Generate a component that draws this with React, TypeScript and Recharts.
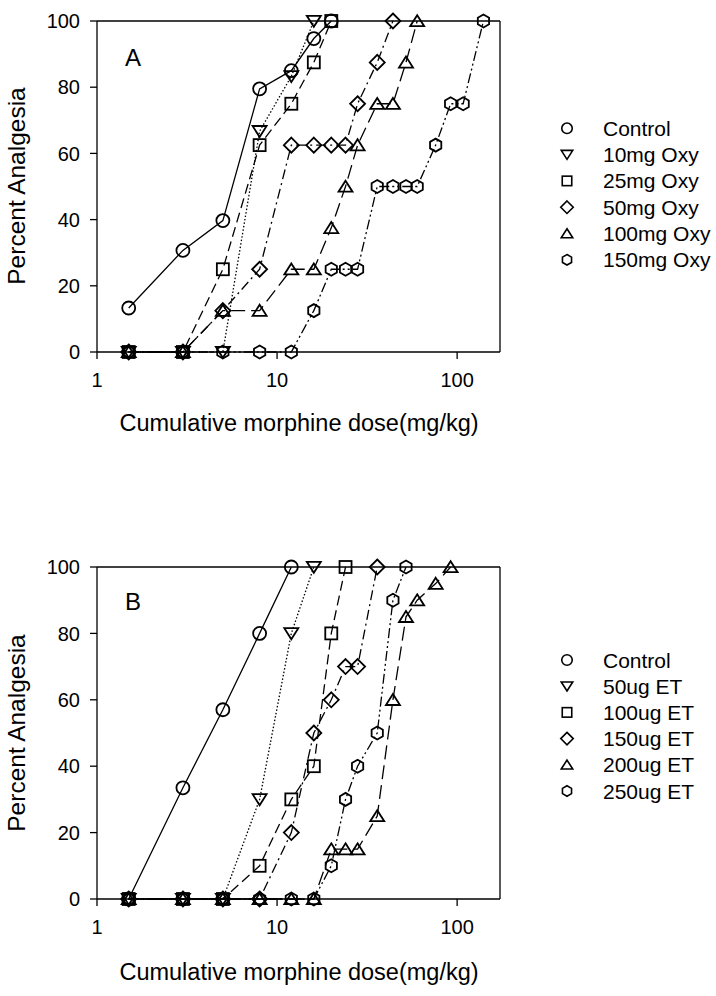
import React from "react";
import { LineChart, Line, XAxis, YAxis, ReferenceLine } from "recharts";

// cumulative morphine doses (mg/kg), shared by every series
const doses = [1.5, 3, 5, 8, 12, 16, 20, 24, 28, 36, 44, 52, 60, 76, 92, 108, 140];

// panel A: oxycodone pretreatment (percent analgesia, one value per dose step)
const controlA = [13.3, 30.7, 39.7, 79.5, 85, 94.7, 100];
const oxy10 = [0, 0, 0, 66.7, 83.3, 100];
const oxy25 = [0, 0, 25, 62.5, 75, 87.5, 100];
const oxy50 = [0, 0, 12.5, 25, 62.5, 62.5, 62.5, 62.5, 75, 87.5, 100];
const oxy100 = [0, 0, 12.5, 12.5, 25, 25, 37.5, 50, 62.5, 75, 75, 87.5, 100];
const oxy150 = [0, 0, 0, 0, 0, 12.5, 25, 25, 25, 50, 50, 50, 50, 62.5, 75, 75, 100];
const namesA = ["Control", "10mg Oxy", "25mg Oxy", "50mg Oxy", "100mg Oxy", "150mg Oxy"];

// panel B: ET pretreatment
const controlB = [0, 33.5, 57, 80, 100];
const et50 = [0, 0, 0, 30, 80, 100];
const et100 = [0, 0, 0, 10, 30, 40, 80, 100];
const et150 = [0, 0, 0, 0, 20, 50, 60, 70, 70, 100];
const et200 = [0, 0, 0, 0, 0, 0, 15, 15, 15, 25, 60, 85, 90, 95, 100];
const et250 = [0, 0, 0, 0, 0, 0, 10, 30, 40, 50, 90, 100];
const namesB = ["Control", "50ug ET", "100ug ET", "150ug ET", "200ug ET", "250ug ET"];

const xTicks = [1, 10, 100];
const yTicks = [0, 20, 40, 60, 80, 100];

const shapes = ["circle", "down", "square", "diamond", "up", "hexagon"];
const dashes = [undefined, "1.5 2", "10 5", "10 4 2 4", "14 6", "10 3 2 3 2 3"];

const FONT = "'Liberation Sans', Arial, sans-serif";

const toPoints = (values: number[]) => values.map((y, i) => ({ x: doses[i], y }));

const Marker = ({ shape, cx, cy, s = 13, sw = 1.8 }: any) => {
  const h = s / 2;
  const common = { fill: "none", stroke: "#000", strokeWidth: sw };
  switch (shape) {
    case "circle":
      return <circle cx={cx} cy={cy} r={h} {...common} />;
    case "down":
      return (
        <polygon
          points={`${cx - h - 0.5},${cy - h * 0.8} ${cx + h + 0.5},${cy - h * 0.8} ${cx},${cy + h * 0.9}`}
          {...common}
        />
      );
    case "square":
      return <rect x={cx - h + 0.5} y={cy - h + 0.5} width={s - 1} height={s - 1} {...common} />;
    case "diamond":
      return (
        <polygon
          points={`${cx},${cy - h - 1} ${cx + h + 1},${cy} ${cx},${cy + h + 1} ${cx - h - 1},${cy}`}
          {...common}
        />
      );
    case "up":
      return (
        <polygon
          points={`${cx},${cy - h * 0.9} ${cx + h + 0.5},${cy + h * 0.8} ${cx - h - 0.5},${cy + h * 0.8}`}
          {...common}
        />
      );
    default: {
      const w = h * 0.866;
      return (
        <polygon
          points={`${cx},${cy - h} ${cx + w},${cy - h / 2} ${cx + w},${cy + h / 2} ${cx},${cy + h} ${cx - w},${cy + h / 2} ${cx - w},${cy - h / 2}`}
          {...common}
        />
      );
    }
  }
};

const dotFor = (shape: string) => (props: any) =>
  <Marker key={`${shape}-${props.index}`} shape={shape} cx={props.cx} cy={props.cy} />;

const tickStyle = { fill: "#000", fontSize: 20, fontFamily: FONT };

interface PanelProps {
  series: number[][];
  height: number;
  top: number;
  xAxisHeight: number;
}

const Panel = ({ series, height, top, xAxisHeight }: PanelProps) => (
  <LineChart width={716} height={height} margin={{ top, right: 216, bottom: 0, left: 0 }}>
    <XAxis
      dataKey="x"
      type="number"
      scale="log"
      domain={[1, 173]}
      allowDataOverflow
      ticks={xTicks}
      height={xAxisHeight}
      tickSize={7}
      tickMargin={14}
      tick={tickStyle}
      axisLine={{ stroke: "#000", strokeWidth: 1.3 }}
      tickLine={{ stroke: "#000", strokeWidth: 1.3 }}
    />
    <YAxis
      type="number"
      domain={[0, 100]}
      ticks={yTicks}
      width={97}
      tickSize={7}
      tickMargin={10}
      tick={tickStyle}
      axisLine={{ stroke: "#000", strokeWidth: 1.3 }}
      tickLine={{ stroke: "#000", strokeWidth: 1.3 }}
    />
    <ReferenceLine y={100} stroke="#000" strokeWidth={1.3} />
    <ReferenceLine x={173} stroke="#000" strokeWidth={1.3} />
    {series.map((values, i) => (
      <Line
        key={i}
        data={toPoints(values)}
        dataKey="y"
        type="linear"
        stroke="#000"
        strokeWidth={1.3}
        strokeDasharray={dashes[i]}
        dot={dotFor(shapes[i])}
        activeDot={false}
        isAnimationActive={false}
      />
    ))}
  </LineChart>
);

const LegendBlock = ({ names, y0, step }: { names: string[]; y0: number; step: number }) => (
  <g>
    {names.map((name, i) => (
      <g key={name}>
        <Marker shape={shapes[i]} cx={567} cy={y0 + i * step} s={10.5} sw={1.6} />
        <text x={603} y={y0 + i * step + 7.5} fontSize={21} fontFamily={FONT} fill="#000">
          {name}
        </text>
      </g>
    ))}
  </g>
);

export default function App() {
  return (
    <div style={{ position: "absolute", left: 0, top: 0, width: 716, height: 996, background: "#fff" }}>
      <div style={{ position: "absolute", left: 0, top: 0 }}>
        <Panel series={[controlA, oxy10, oxy25, oxy50, oxy100, oxy150]} height={480} top={21} xAxisHeight={128} />
      </div>
      <div style={{ position: "absolute", left: 0, top: 500 }}>
        <Panel series={[controlB, et50, et100, et150, et200, et250]} height={496} top={67} xAxisHeight={97} />
      </div>
      <svg
        width={716}
        height={996}
        style={{ position: "absolute", left: 0, top: 0, pointerEvents: "none" }}
      >
        <text x={133} y={66} fontSize={24} fontFamily={FONT} textAnchor="middle">A</text>
        <text x={133} y={610} fontSize={24} fontFamily={FONT} textAnchor="middle">B</text>
        <text x={299} y={431} fontSize={23.5} fontFamily={FONT} textAnchor="middle">
          Cumulative morphine dose(mg/kg)
        </text>
        <text x={299} y={980} fontSize={23.5} fontFamily={FONT} textAnchor="middle">
          Cumulative morphine dose(mg/kg)
        </text>
        <text x={25} y={186} fontSize={24.5} fontFamily={FONT} textAnchor="middle" transform="rotate(-90 25 186)">
          Percent Analgesia
        </text>
        <text x={25} y={733} fontSize={24.5} fontFamily={FONT} textAnchor="middle" transform="rotate(-90 25 733)">
          Percent Analgesia
        </text>
        <LegendBlock names={namesA} y0={128.3} step={26.3} />
        <LegendBlock names={namesB} y0={660} step={26.2} />
      </svg>
    </div>
  );
}
